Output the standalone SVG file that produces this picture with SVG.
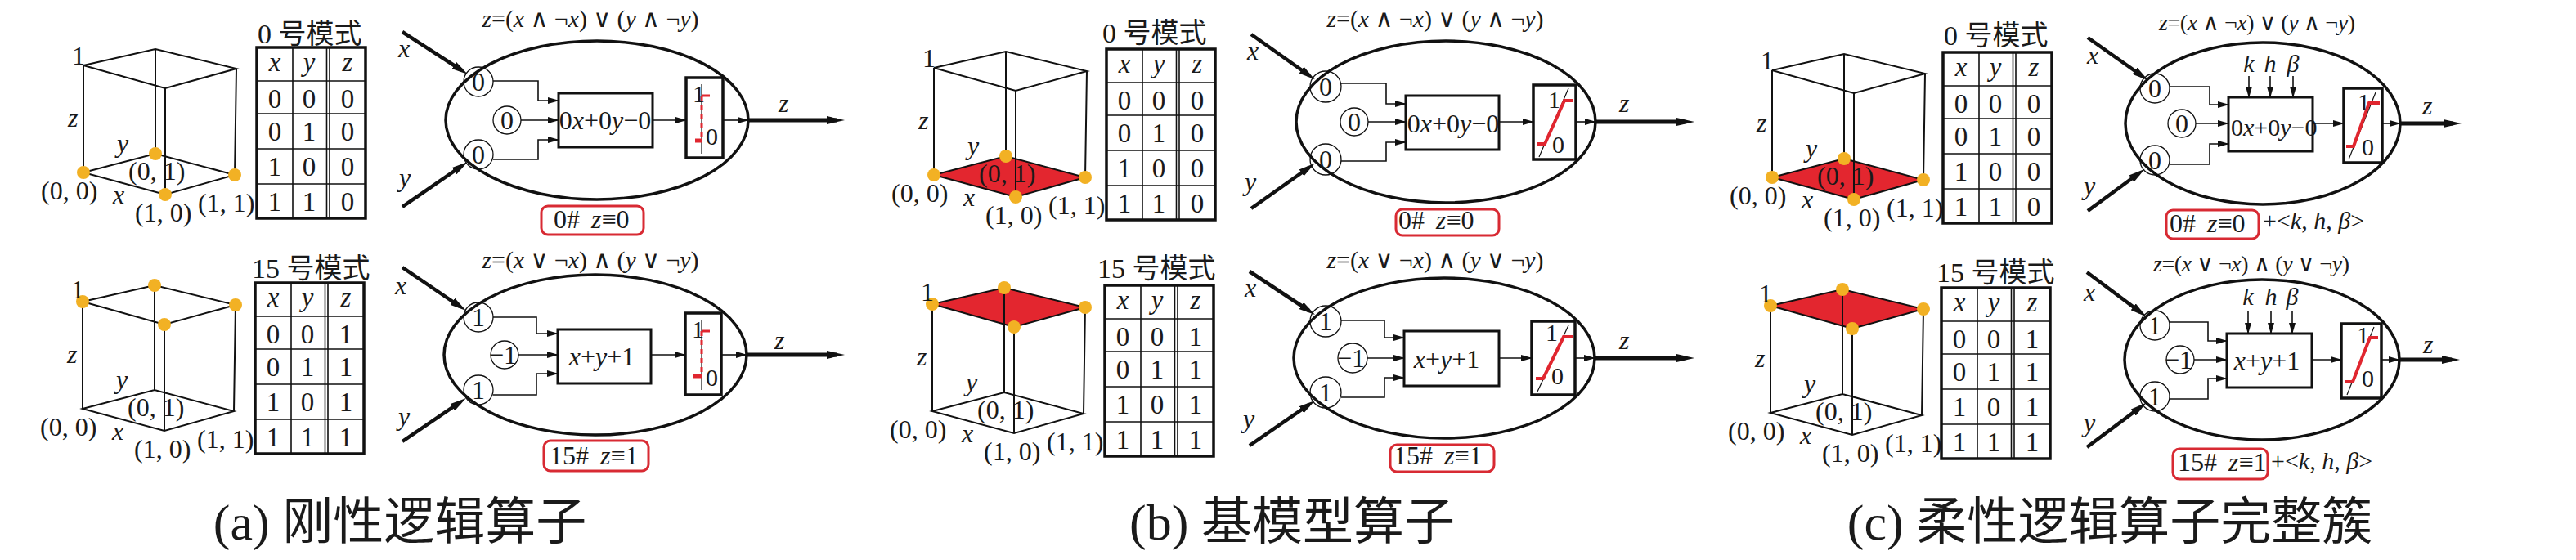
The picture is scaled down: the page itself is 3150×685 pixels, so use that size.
<svg xmlns="http://www.w3.org/2000/svg" width="3150" height="685" viewBox="0 0 3150 685">
<style>
text{font-family:"Liberation Serif","DejaVu Serif","Noto Sans CJK SC",serif;fill:#1a1a1a}
.cjk{font-family:"Liberation Serif","Noto Sans CJK SC",serif}
.i{font-style:italic}
.m{text-anchor:middle}
.e{text-anchor:end}
.s28{font-size:28px}.s30{font-size:30px}.s32{font-size:32px}.s33{font-size:33px}.s34{font-size:34px}
.cap{font-size:62px;text-anchor:middle;font-family:"Liberation Serif","Noto Sans CJK SC",serif}
.edge{fill:none;stroke:#111;stroke-width:2}
.face{fill:#e3262f;stroke:#111;stroke-width:2}
.dot{fill:#f2b124}
.tbo{fill:none;stroke:#111;stroke-width:3.5}
.tbi{fill:none;stroke:#111;stroke-width:1.6}
.ell{fill:none;stroke:#111;stroke-width:3.5}
.box{fill:none;stroke:#111;stroke-width:3}
.thr{fill:none;stroke:#111;stroke-width:3.5}
.wc{fill:none;stroke:#111;stroke-width:1.3}
.wire{fill:none;stroke:#111;stroke-width:1.6;marker-end:url(#aS)}
.plain{fill:none;stroke:#111;stroke-width:1.6}
.inp{fill:none;stroke:#111;stroke-width:4.5;marker-end:url(#aB)}
.out{fill:none;stroke:#111;stroke-width:5;marker-end:url(#aO)}
.rb{fill:none;stroke:#d82a33;stroke-width:3}
.thin{fill:none;stroke:#111;stroke-width:1.2}
.rs{fill:none;stroke:#e0262f;stroke-width:4}
.rd{fill:none;stroke:#e0262f;stroke-width:3;stroke-dasharray:6 5}
.rt{fill:none;stroke:#e0262f;stroke-width:3}
.rbt{fill:none;stroke:#e0262f;stroke-width:5}
</style>
<defs>
<marker id="aS" markerUnits="userSpaceOnUse" markerWidth="14" markerHeight="8" refX="13" refY="4" orient="auto"><path d="M0,0 L14,4 L0,8 Z" fill="#111"/></marker>
<marker id="aB" markerUnits="userSpaceOnUse" markerWidth="20" markerHeight="10" refX="11" refY="5" orient="auto"><path d="M0,0 L20,5 L0,10 Z" fill="#111"/></marker>
<marker id="aO" markerUnits="userSpaceOnUse" markerWidth="22" markerHeight="10" refX="12" refY="5" orient="auto"><path d="M0,0 L22,5 L0,10 Z" fill="#111"/></marker>
</defs>

<!-- ===== CUBES ===== -->
<g id="cube-a0">
<path class="edge" d="M102,80 L190,60 L289,84 L202,108 Z M102,211 L190,188 L287,214 L202,238 Z M102,80 V211 M190,60 V188 M289,84 L287,214 M202,108 V238"/>
<circle class="dot" cx="102" cy="211" r="8"/><circle class="dot" cx="190" cy="188" r="8"/><circle class="dot" cx="287" cy="214" r="8"/><circle class="dot" cx="202" cy="238" r="8"/>
<text class="s32 e" x="104" y="79">1</text><text class="s32 i" x="83" y="155">z</text><text class="s32 i" x="143" y="186">y</text>
<text class="s32" x="157" y="220">(0, 1)</text><text class="s32" x="50" y="244">(0, 0)</text><text class="s32 i" x="138" y="249">x</text>
<text class="s32" x="165" y="271">(1, 0)</text><text class="s32" x="242" y="259">(1, 1)</text>
</g>
<g id="cube-a1" transform="translate(-1,289)">
<path class="edge" d="M102,80 L190,60 L289,84 L202,108 Z M102,211 L190,188 L287,214 L202,238 Z M102,80 V211 M190,60 V188 M289,84 L287,214 M202,108 V238"/>
<circle class="dot" cx="102" cy="80" r="8"/><circle class="dot" cx="190" cy="60" r="8"/><circle class="dot" cx="289" cy="84" r="8"/><circle class="dot" cx="202" cy="108" r="8"/>
<text class="s32 e" x="104" y="76">1</text><text class="s32 i" x="83" y="155">z</text><text class="s32 i" x="143" y="186">y</text>
<text class="s32" x="157" y="220">(0, 1)</text><text class="s32" x="50" y="244">(0, 0)</text><text class="s32 i" x="138" y="249">x</text>
<text class="s32" x="165" y="271">(1, 0)</text><text class="s32" x="242" y="259">(1, 1)</text>
</g>
<g id="cube-b0" transform="translate(1040,3)">
<polygon class="face" points="102,211 190,188 287,214 202,238"/>
<path class="edge" d="M102,80 L190,60 L289,84 L202,108 Z M102,80 V211 M190,60 V188 M289,84 L287,214 M202,108 V238"/>
<circle class="dot" cx="102" cy="211" r="8"/><circle class="dot" cx="190" cy="188" r="8"/><circle class="dot" cx="287" cy="214" r="8"/><circle class="dot" cx="202" cy="238" r="8"/>
<text class="s32 e" x="104" y="79">1</text><text class="s32 i" x="83" y="155">z</text><text class="s32 i" x="143" y="186">y</text>
<text class="s32" x="157" y="220">(0, 1)</text><text class="s32" x="50" y="244">(0, 0)</text><text class="s32 i" x="138" y="249">x</text>
<text class="s32" x="165" y="271">(1, 0)</text><text class="s32" x="242" y="259">(1, 1)</text>
</g>
<g id="cube-b1" transform="translate(1038,292)">
<polygon class="face" points="102,80 190,60 289,84 202,108"/>
<path class="edge" d="M102,211 L190,188 L287,214 L202,238 Z M102,80 V211 M190,60 V188 M289,84 L287,214 M202,108 V238"/>
<circle class="dot" cx="102" cy="80" r="8"/><circle class="dot" cx="190" cy="60" r="8"/><circle class="dot" cx="289" cy="84" r="8"/><circle class="dot" cx="202" cy="108" r="8"/>
<text class="s32 e" x="104" y="76">1</text><text class="s32 i" x="83" y="155">z</text><text class="s32 i" x="143" y="186">y</text>
<text class="s32" x="157" y="220">(0, 1)</text><text class="s32" x="50" y="244">(0, 0)</text><text class="s32 i" x="138" y="249">x</text>
<text class="s32" x="165" y="271">(1, 0)</text><text class="s32" x="242" y="259">(1, 1)</text>
</g>
<g id="cube-c0" transform="translate(2065,6)">
<polygon class="face" points="102,211 190,188 287,214 202,238"/>
<path class="edge" d="M102,80 L190,60 L289,84 L202,108 Z M102,80 V211 M190,60 V188 M289,84 L287,214 M202,108 V238"/>
<circle class="dot" cx="102" cy="211" r="8"/><circle class="dot" cx="190" cy="188" r="8"/><circle class="dot" cx="287" cy="214" r="8"/><circle class="dot" cx="202" cy="238" r="8"/>
<text class="s32 e" x="104" y="79">1</text><text class="s32 i" x="83" y="155">z</text><text class="s32 i" x="143" y="186">y</text>
<text class="s32" x="157" y="220">(0, 1)</text><text class="s32" x="50" y="244">(0, 0)</text><text class="s32 i" x="138" y="249">x</text>
<text class="s32" x="165" y="271">(1, 0)</text><text class="s32" x="242" y="259">(1, 1)</text>
</g>
<g id="cube-c1" transform="translate(2063,294)">
<polygon class="face" points="102,80 190,60 289,84 202,108"/>
<path class="edge" d="M102,211 L190,188 L287,214 L202,238 Z M102,80 V211 M190,60 V188 M289,84 L287,214 M202,108 V238"/>
<circle class="dot" cx="102" cy="80" r="8"/><circle class="dot" cx="190" cy="60" r="8"/><circle class="dot" cx="289" cy="84" r="8"/><circle class="dot" cx="202" cy="108" r="8"/>
<text class="s32 e" x="104" y="76">1</text><text class="s32 i" x="83" y="155">z</text><text class="s32 i" x="143" y="186">y</text>
<text class="s32" x="157" y="220">(0, 1)</text><text class="s32" x="50" y="244">(0, 0)</text><text class="s32 i" x="138" y="249">x</text>
<text class="s32" x="165" y="271">(1, 0)</text><text class="s32" x="242" y="259">(1, 1)</text>
</g>

<!-- ===== TABLES ===== -->
<g id="table-a0" transform="translate(314,58)">
<text class="s34 cjk" x="1" y="-5">0 号模式</text>
<rect class="tbo" x="0" y="0" width="133" height="209"/>
<path class="tbi" d="M44,0 V209 M85.5,0 V209 M89,0 V209 M0,41 H133 M0,81 H133 M0,124 H133 M0,167 H133"/>
<g class="s33 m"><text class="i" x="22" y="29">x</text><text class="i" x="64" y="29">y</text><text class="i" x="111" y="29">z</text>
<text x="22" y="74">0</text><text x="64" y="74">0</text><text x="111" y="74">0</text>
<text x="22" y="114">0</text><text x="64" y="114">1</text><text x="111" y="114">0</text>
<text x="22" y="157">1</text><text x="64" y="157">0</text><text x="111" y="157">0</text>
<text x="22" y="200">1</text><text x="64" y="200">1</text><text x="111" y="200">0</text></g>
</g>
<g id="table-a1" transform="translate(312,346)">
<text class="s34 cjk" x="-4" y="-6">15 号模式</text>
<rect class="tbo" x="0" y="0" width="133" height="209"/>
<path class="tbi" d="M44,0 V209 M85.5,0 V209 M89,0 V209 M0,41 H133 M0,81 H133 M0,124 H133 M0,167 H133"/>
<g class="s33 m"><text class="i" x="22" y="29">x</text><text class="i" x="64" y="29">y</text><text class="i" x="111" y="29">z</text>
<text x="22" y="74">0</text><text x="64" y="74">0</text><text x="111" y="74">1</text>
<text x="22" y="114">0</text><text x="64" y="114">1</text><text x="111" y="114">1</text>
<text x="22" y="157">1</text><text x="64" y="157">0</text><text x="111" y="157">1</text>
<text x="22" y="200">1</text><text x="64" y="200">1</text><text x="111" y="200">1</text></g>
</g>
<g id="table-b0" transform="translate(1353,60)">
<text class="s34 cjk" x="-5" y="-8">0 号模式</text>
<rect class="tbo" x="0" y="0" width="133" height="209"/>
<path class="tbi" d="M44,0 V209 M85.5,0 V209 M89,0 V209 M0,41 H133 M0,81 H133 M0,124 H133 M0,167 H133"/>
<g class="s33 m"><text class="i" x="22" y="29">x</text><text class="i" x="64" y="29">y</text><text class="i" x="111" y="29">z</text>
<text x="22" y="74">0</text><text x="64" y="74">0</text><text x="111" y="74">0</text>
<text x="22" y="114">0</text><text x="64" y="114">1</text><text x="111" y="114">0</text>
<text x="22" y="157">1</text><text x="64" y="157">0</text><text x="111" y="157">0</text>
<text x="22" y="200">1</text><text x="64" y="200">1</text><text x="111" y="200">0</text></g>
</g>
<g id="table-b1" transform="translate(1351,349)">
<text class="s34 cjk" x="-9" y="-9">15 号模式</text>
<rect class="tbo" x="0" y="0" width="133" height="209"/>
<path class="tbi" d="M44,0 V209 M85.5,0 V209 M89,0 V209 M0,41 H133 M0,81 H133 M0,124 H133 M0,167 H133"/>
<g class="s33 m"><text class="i" x="22" y="29">x</text><text class="i" x="64" y="29">y</text><text class="i" x="111" y="29">z</text>
<text x="22" y="74">0</text><text x="64" y="74">0</text><text x="111" y="74">1</text>
<text x="22" y="114">0</text><text x="64" y="114">1</text><text x="111" y="114">1</text>
<text x="22" y="157">1</text><text x="64" y="157">0</text><text x="111" y="157">1</text>
<text x="22" y="200">1</text><text x="64" y="200">1</text><text x="111" y="200">1</text></g>
</g>
<g id="table-c0" transform="translate(2376,64)">
<text class="s34 cjk" x="1" y="-9">0 号模式</text>
<rect class="tbo" x="0" y="0" width="133" height="209"/>
<path class="tbi" d="M44,0 V209 M85.5,0 V209 M89,0 V209 M0,41 H133 M0,81 H133 M0,124 H133 M0,167 H133"/>
<g class="s33 m"><text class="i" x="22" y="29">x</text><text class="i" x="64" y="29">y</text><text class="i" x="111" y="29">z</text>
<text x="22" y="74">0</text><text x="64" y="74">0</text><text x="111" y="74">0</text>
<text x="22" y="114">0</text><text x="64" y="114">1</text><text x="111" y="114">0</text>
<text x="22" y="157">1</text><text x="64" y="157">0</text><text x="111" y="157">0</text>
<text x="22" y="200">1</text><text x="64" y="200">1</text><text x="111" y="200">0</text></g>
</g>
<g id="table-c1" transform="translate(2374,352)">
<text class="s34 cjk" x="-6" y="-7">15 号模式</text>
<rect class="tbo" x="0" y="0" width="133" height="209"/>
<path class="tbi" d="M44,0 V209 M85.5,0 V209 M89,0 V209 M0,41 H133 M0,81 H133 M0,124 H133 M0,167 H133"/>
<g class="s33 m"><text class="i" x="22" y="29">x</text><text class="i" x="64" y="29">y</text><text class="i" x="111" y="29">z</text>
<text x="22" y="74">0</text><text x="64" y="74">0</text><text x="111" y="74">1</text>
<text x="22" y="114">0</text><text x="64" y="114">1</text><text x="111" y="114">1</text>
<text x="22" y="157">1</text><text x="64" y="157">0</text><text x="111" y="157">1</text>
<text x="22" y="200">1</text><text x="64" y="200">1</text><text x="111" y="200">1</text></g>
</g>

<!-- ===== OPERATORS ===== -->
<g id="op-a0" transform="translate(730,147)">
<text class="s30 m" x="-8" y="-114" textLength="265" lengthAdjust="spacing"><tspan class="i">z</tspan>=(<tspan class="i">x</tspan> ∧ ¬<tspan class="i">x</tspan>) ∨ (<tspan class="i">y</tspan> ∧ ¬<tspan class="i">y</tspan>)</text>
<ellipse class="ell" cx="0" cy="0" rx="185" ry="97"/>
<circle class="wc" cx="-145" cy="-47" r="18"/><text class="s32 m" x="-145" y="-36">0</text>
<circle class="wc" cx="-110" cy="0" r="17"/><text class="s32 m" x="-110" y="11">0</text>
<circle class="wc" cx="-145" cy="42" r="18"/><text class="s32 m" x="-145" y="53">0</text>
<rect class="box" x="-47" y="-33" width="115" height="66"/><text class="s32 m" x="10" y="11">0<tspan class="i">x</tspan>+0<tspan class="i">y</tspan>−0</text>
<rect class="thr" x="109" y="-52" width="45" height="98"/>
<path class="thin" d="M128,-44 V41"/><path class="rt" d="M128,-30 H138"/><path class="rd" d="M128,-30 V25"/><path class="rbt" d="M120,25 H128"/>
<text class="s30" x="117" y="-22">1</text><text class="s30" x="133" y="30">0</text>
<text class="s32 i" x="222" y="-10">z</text><text class="s32 i" x="-243" y="-77">x</text><text class="s32 i" x="-242" y="81">y</text>
<rect class="rb" x="-68" y="105" width="125" height="35" rx="8"/><text class="s32" x="-53" y="132">0# <tspan class="i" dx="6">z</tspan>≡0</text>
</g>
<g id="op-a1" transform="translate(728,434)">
<text class="s30 m" x="-6" y="-106" textLength="265" lengthAdjust="spacing"><tspan class="i">z</tspan>=(<tspan class="i">x</tspan> ∨ ¬<tspan class="i">x</tspan>) ∧ (<tspan class="i">y</tspan> ∨ ¬<tspan class="i">y</tspan>)</text>
<ellipse class="ell" cx="0" cy="0" rx="185" ry="98"/>
<circle class="wc" cx="-143" cy="-46" r="18"/><text class="s32 m" x="-143" y="-35">1</text>
<circle class="wc" cx="-111" cy="0" r="17"/><text class="s32 m" x="-113" y="11">−1</text>
<circle class="wc" cx="-143" cy="43" r="18"/><text class="s32 m" x="-143" y="54">1</text>
<rect class="box" x="-46" y="-31" width="114" height="66"/><text class="s32 m" x="8" y="13"><tspan class="i">x</tspan>+<tspan class="i">y</tspan>+1</text>
<rect class="thr" x="110" y="-51" width="44" height="100"/>
<path class="thin" d="M130,-42 V43"/><path class="rt" d="M130,-29 H140"/><path class="rd" d="M130,-29 V26"/><path class="rbt" d="M120,26 H130"/>
<text class="s30" x="118" y="-21">1</text><text class="s30" x="135" y="38">0</text>
<text class="s32 i" x="219" y="-7">z</text><text class="s32 i" x="-245" y="-74">x</text><text class="s32 i" x="-241" y="86">y</text>
<rect class="rb" x="-63" y="105" width="128" height="37" rx="8"/><text class="s32" x="-56" y="134">15# <tspan class="i" dx="6">z</tspan>≡1</text>
</g>
<g id="op-b0" transform="translate(1768,149)">
<text class="s30 m" x="-13" y="-116" textLength="265" lengthAdjust="spacing"><tspan class="i">z</tspan>=(<tspan class="i">x</tspan> ∧ ¬<tspan class="i">x</tspan>) ∨ (<tspan class="i">y</tspan> ∧ ¬<tspan class="i">y</tspan>)</text>
<ellipse class="ell" cx="0" cy="0" rx="183" ry="99"/>
<circle class="wc" cx="-147" cy="-43" r="19"/><text class="s32 m" x="-147" y="-32">0</text>
<circle class="wc" cx="-112" cy="0" r="17"/><text class="s32 m" x="-112" y="11">0</text>
<circle class="wc" cx="-147" cy="46" r="19"/><text class="s32 m" x="-147" y="57">0</text>
<rect class="box" x="-49" y="-32" width="114" height="66"/><text class="s32 m" x="9" y="13">0<tspan class="i">x</tspan>+0<tspan class="i">y</tspan>−0</text>
<rect class="thr" x="107" y="-45" width="52" height="91"/>
<path class="thin" d="M114,43 L150,-41"/><path class="rs" d="M112,27 H121 L145,-26 H156"/>
<text class="s30" x="125" y="-17">1</text><text class="s30" x="130" y="38">0</text>
<text class="s32 i" x="212" y="-12">z</text><text class="s32 i" x="-243" y="-76">x</text><text class="s32 i" x="-246" y="84">y</text>
<rect class="rb" x="-61" y="107" width="126" height="32" rx="8"/><text class="s32" x="-58" y="131">0# <tspan class="i" dx="6">z</tspan>≡0</text>
</g>
<g id="op-b1" transform="translate(1766,438)">
<text class="s30 m" x="-11" y="-110" textLength="265" lengthAdjust="spacing"><tspan class="i">z</tspan>=(<tspan class="i">x</tspan> ∨ ¬<tspan class="i">x</tspan>) ∧ (<tspan class="i">y</tspan> ∨ ¬<tspan class="i">y</tspan>)</text>
<ellipse class="ell" cx="0" cy="0" rx="184" ry="98"/>
<circle class="wc" cx="-145" cy="-45" r="19"/><text class="s32 m" x="-145" y="-34">1</text>
<circle class="wc" cx="-112" cy="0" r="18"/><text class="s32 m" x="-114" y="11">−1</text>
<circle class="wc" cx="-145" cy="42" r="19"/><text class="s32 m" x="-145" y="53">1</text>
<rect class="box" x="-49" y="-33" width="116" height="67"/><text class="s32 m" x="3" y="12"><tspan class="i">x</tspan>+<tspan class="i">y</tspan>+1</text>
<rect class="thr" x="107" y="-45" width="53" height="90"/>
<path class="thin" d="M114,41 L152,-40"/><path class="rs" d="M112,25 H121 L146,-26 H157"/>
<text class="s30" x="124" y="-21">1</text><text class="s30" x="131" y="32">0</text>
<text class="s32 i" x="214" y="-11">z</text><text class="s32 i" x="-244" y="-75">x</text><text class="s32 i" x="-246" y="85">y</text>
<rect class="rb" x="-66" y="106" width="127" height="33" rx="8"/><text class="s32" x="-62" y="130">15# <tspan class="i" dx="6">z</tspan>≡1</text>
</g>
<g id="op-c0" transform="translate(2767,151)">
<text class="s28 m" x="-7" y="-114" textLength="240" lengthAdjust="spacing"><tspan class="i">z</tspan>=(<tspan class="i">x</tspan> ∧ ¬<tspan class="i">x</tspan>) ∨ (<tspan class="i">y</tspan> ∧ ¬<tspan class="i">y</tspan>)</text>
<ellipse class="ell" cx="0" cy="0" rx="168" ry="99"/>
<circle class="wc" cx="-132" cy="-43" r="18"/><text class="s32 m" x="-132" y="-32">0</text>
<circle class="wc" cx="-99" cy="0" r="17"/><text class="s32 m" x="-99" y="11">0</text>
<circle class="wc" cx="-132" cy="45" r="18"/><text class="s32 m" x="-132" y="56">0</text>
<rect class="box" x="-42" y="-32" width="103" height="66"/><text class="s30" x="-39" y="15">0<tspan class="i">x</tspan>+0<tspan class="i">y</tspan>−0</text>
<text class="s30 i m" x="-17" y="-63">k</text><text class="s30 i m" x="9" y="-63">h</text><text class="s30 i m" x="37" y="-63">β</text>
<rect class="thr" x="99" y="-43" width="47" height="91"/>
<path class="thin" d="M105,44 L138,-38"/><path class="rs" d="M102,28 H111 L130,-25 H143"/>
<text class="s30" x="116" y="-16">1</text><text class="s30" x="121" y="39">0</text>
<text class="s32 i" x="195" y="-11">z</text><text class="s32 i" x="-215" y="-73">x</text><text class="s32 i" x="-219" y="87">y</text>
<rect class="rb" x="-118" y="106" width="113" height="35" rx="8"/><text class="s32" x="-114" y="133">0# <tspan class="i" dx="6">z</tspan>≡0</text>
<text class="s30" x="0" y="129">+&lt;<tspan class="i">k</tspan>, <tspan class="i">h</tspan>, <tspan class="i">β</tspan>&gt;</text>
</g>
<g id="op-c1" transform="translate(2766,440)">
<text class="s28 m" x="-13" y="-108" textLength="240" lengthAdjust="spacing"><tspan class="i">z</tspan>=(<tspan class="i">x</tspan> ∨ ¬<tspan class="i">x</tspan>) ∧ (<tspan class="i">y</tspan> ∨ ¬<tspan class="i">y</tspan>)</text>
<ellipse class="ell" cx="0" cy="0" rx="168" ry="98"/>
<circle class="wc" cx="-131" cy="-42" r="18"/><text class="s32 m" x="-131" y="-31">1</text>
<circle class="wc" cx="-100" cy="0" r="17"/><text class="s32 m" x="-102" y="11">−1</text>
<circle class="wc" cx="-131" cy="45" r="18"/><text class="s32 m" x="-131" y="56">1</text>
<rect class="box" x="-43" y="-32" width="104" height="66"/><text class="s32 m" x="6" y="12"><tspan class="i">x</tspan>+<tspan class="i">y</tspan>+1</text>
<text class="s30 i m" x="-17" y="-67">k</text><text class="s30 i m" x="11" y="-67">h</text><text class="s30 i m" x="37" y="-67">β</text>
<rect class="thr" x="97" y="-44" width="49" height="91"/>
<path class="thin" d="M104,43 L137,-40"/><path class="rs" d="M102,27 H111 L132,-27 H142"/>
<text class="s30" x="116" y="-20">1</text><text class="s30" x="122" y="33">0</text>
<text class="s32 i" x="197" y="-8">z</text><text class="s32 i" x="-218" y="-72">x</text><text class="s32 i" x="-218" y="88">y</text>
<rect class="rb" x="-109" y="109" width="116" height="37" rx="8"/><text class="s32" x="-103" y="136">15# <tspan class="i" dx="6">z</tspan>≡1</text>
<text class="s30" x="11" y="134">+&lt;<tspan class="i">k</tspan>, <tspan class="i">h</tspan>, <tspan class="i">β</tspan>&gt;</text>
</g>

<!-- ===== CONNECTORS ===== -->
<g id="connectors">
<g transform="translate(730,147)">
<path class="inp" d="M-238,-108 L-165.5,-61"/><path class="inp" d="M-238,106 L-165.5,56"/>
<path class="wire" d="M-127,-48 H-72 V-24 H-47"/><path class="wire" d="M-93,0 H-47"/><path class="wire" d="M-127,48 H-72 V24 H-47"/>
<path class="wire" d="M68,0 H109"/><path class="wire" d="M154,0 H185"/><path class="out" d="M185,0 H293"/>
</g>
<g transform="translate(728,434)">
<path class="inp" d="M-236,-107 L-165.5,-59"/><path class="inp" d="M-236,106 L-165.5,58"/>
<path class="wire" d="M-125,-46 H-72 V-26 H-46"/><path class="wire" d="M-94,0 H-46"/><path class="wire" d="M-125,49 H-72 V23 H-46"/>
<path class="wire" d="M68,0 H110"/><path class="wire" d="M154,0 H185"/><path class="out" d="M185,0 H295"/>
</g>
<g transform="translate(1768,149)">
<path class="inp" d="M-238,-107 L-167.5,-57"/><path class="inp" d="M-238,106 L-167.5,56"/>
<path class="wire" d="M-128,-47 H-73 V-22 H-49"/><path class="wire" d="M-95,0 H-49"/><path class="wire" d="M-128,48 H-73 V25 H-49"/>
<path class="wire" d="M65,0 H107"/><path class="wire" d="M159,0 H183"/><path class="out" d="M183,0 H294"/>
</g>
<g transform="translate(1766,438)">
<path class="inp" d="M-238,-106 L-165.5,-58"/><path class="inp" d="M-238,107 L-165.5,57"/>
<path class="wire" d="M-126,-46 H-73 V-25 H-49"/><path class="wire" d="M-94,0 H-49"/><path class="wire" d="M-126,48 H-73 V24 H-49"/>
<path class="wire" d="M67,0 H107"/><path class="wire" d="M160,0 H184"/><path class="out" d="M184,0 H296"/>
</g>
<g transform="translate(2767,151)">
<path class="inp" d="M-214,-105 L-147.5,-58"/><path class="inp" d="M-214,107 L-151.5,61"/>
<path class="wire" d="M-114,-45 H-65 V-23 H-42"/><path class="wire" d="M-82,0 H-42"/><path class="wire" d="M-114,50 H-65 V25 H-42"/>
<path class="wire" d="M-17,-58 V-32"/><path class="wire" d="M9,-58 V-32"/><path class="wire" d="M37,-58 V-32"/>
<path class="wire" d="M61,0 H99"/><path class="wire" d="M146,0 H168"/><path class="out" d="M168,0 H233"/>
</g>
<g transform="translate(2766,440)">
<path class="inp" d="M-214,-107 L-148.5,-58"/><path class="inp" d="M-214,107 L-148.5,58"/>
<path class="wire" d="M-113,-46 H-66 V-23 H-43"/><path class="wire" d="M-83,0 H-43"/><path class="wire" d="M-113,48 H-66 V23 H-43"/>
<path class="wire" d="M-17,-60 V-32"/><path class="wire" d="M11,-60 V-32"/><path class="wire" d="M37,-60 V-32"/>
<path class="wire" d="M61,0 H97"/><path class="wire" d="M146,0 H168"/><path class="out" d="M168,0 H232"/>
</g>
</g>

<!-- ===== CAPTIONS ===== -->
<g id="captions">
<text class="cap" x="489" y="660">(a) 刚性逻辑算子</text>
<text class="cap" x="1580" y="660">(b) 基模型算子</text>
<text class="cap" x="2580" y="660">(c) 柔性逻辑算子完整簇</text>
</g>
</svg>
